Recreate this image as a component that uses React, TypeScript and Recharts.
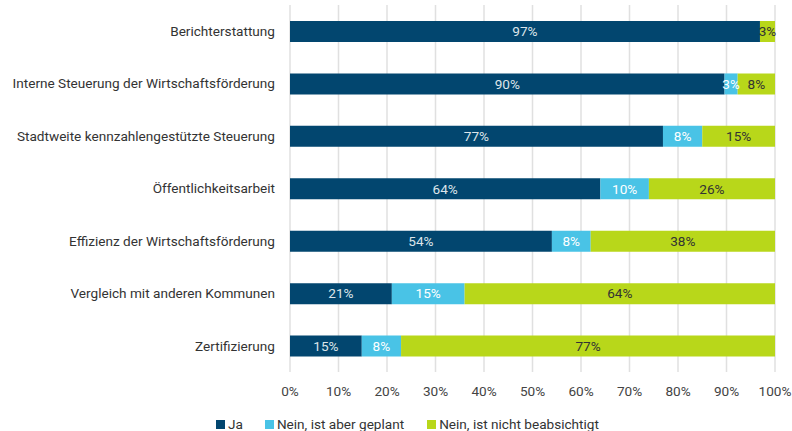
import React from "react";
import {
  BarChart,
  Bar,
  XAxis,
  YAxis,
  CartesianGrid,
  Legend,
  LabelList,
} from "recharts";

const categories = [
  "Berichterstattung",
  "Interne Steuerung der Wirtschaftsförderung",
  "Stadtweite kennzahlengestützte Steuerung",
  "Öffentlichkeitsarbeit",
  "Effizienz der Wirtschaftsförderung",
  "Vergleich mit anderen Kommunen",
  "Zertifizierung",
];

const ja = [96.9, 89.6, 76.9, 64, 54, 21, 14.8];
const geplant = [0, 2.7, 8.1, 10, 8, 15, 8.1];
const nichtBeabsichtigt = [3.1, 7.7, 15, 26, 38, 64, 77.1];

const xTicks = [0, 10, 20, 30, 40, 50, 60, 70, 80, 90, 100];

const seriesNames = ["Ja", "Nein, ist aber geplant", "Nein, ist nicht beabsichtigt"];

const COLORS = {
  ja: "#02466f",
  geplant: "#49c3e6",
  nicht: "#b8d71a",
};

const FONT = "Roboto, 'Liberation Sans', sans-serif";
const FS = 13.6;

const data = categories.map((name, i) => ({
  name,
  ja: ja[i],
  geplant: geplant[i],
  nicht: nichtBeabsichtigt[i],
}));

const pct = (v: unknown) => {
  const n = Number(v);
  if (!n) return "";
  return `${Math.round(n)}%`;
};

function LegendContent() {
  const items = [
    { label: seriesNames[0], color: COLORS.ja, gap: 22 },
    { label: seriesNames[1], color: COLORS.geplant, gap: 23 },
    { label: seriesNames[2], color: COLORS.nicht, gap: 0 },
  ];
  return (
    <div style={{ display: "flex", alignItems: "center", fontFamily: FONT, fontSize: FS, color: "#333", whiteSpace: "nowrap" }}>
      {items.map((it) => (
        <span key={it.label} style={{ display: "flex", alignItems: "center", marginRight: it.gap }}>
          <span style={{ display: "inline-block", width: 9, height: 9, background: it.color, marginRight: 3 }} />
          {it.label}
        </span>
      ))}
    </div>
  );
}

export default function App() {
  return (
    <div style={{ position: "absolute", left: 0, top: 0, background: "#fff" }}>
      <BarChart
        width={792}
        height={431}
        data={data}
        layout="vertical"
        barSize={21}
        margin={{ top: 5, right: 17, bottom: 29, left: 0 }}
      >
        <CartesianGrid horizontal={false} stroke="#e0e0e0" strokeWidth={1.5} />
        <XAxis
          type="number"
          domain={[0, 100]}
          ticks={xTicks}
          tickFormatter={(v) => `${v}%`}
          axisLine={false}
          tickLine={false}
          tickSize={0}
          tickMargin={14}
          height={30}
          interval={0}
          tick={{ fontSize: FS, fill: "#444", fontFamily: FONT }}
        />
        <YAxis
          type="category"
          dataKey="name"
          width={290}
          axisLine={false}
          tickLine={false}
          tickSize={0}
          tickMargin={15}
          interval={0}
          tick={{ fontSize: FS, fill: "#333", fontFamily: FONT }}
        />
        <Legend
          layout="horizontal"
          verticalAlign="middle"
          align="center"
          content={<LegendContent />}
          wrapperStyle={{ position: "absolute", top: 416, left: 216, width: "auto" }}
        />
        <Bar dataKey="ja" name={seriesNames[0]} stackId="a" fill={COLORS.ja} isAnimationActive={false}>
          <LabelList dataKey="ja" position="center" formatter={pct} fill="#dde5ea" fontSize={FS} fontFamily={FONT} />
        </Bar>
        <Bar dataKey="geplant" name={seriesNames[1]} stackId="a" fill={COLORS.geplant} isAnimationActive={false}>
          <LabelList dataKey="geplant" position="center" formatter={pct} fill="#ffffff" fontSize={FS} fontFamily={FONT} />
        </Bar>
        <Bar dataKey="nicht" name={seriesNames[2]} stackId="a" fill={COLORS.nicht} isAnimationActive={false}>
          <LabelList dataKey="nicht" position="center" formatter={pct} fill="#333333" fontSize={FS} fontFamily={FONT} />
        </Bar>
      </BarChart>
    </div>
  );
}
